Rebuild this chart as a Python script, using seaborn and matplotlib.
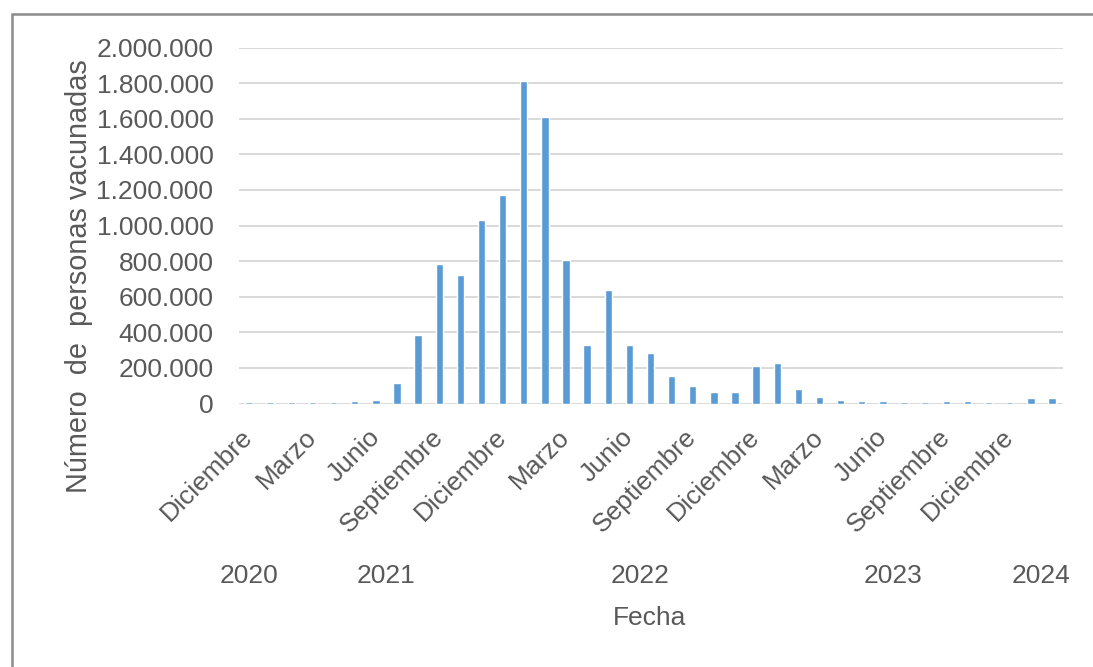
import matplotlib
matplotlib.use("Agg")
import matplotlib.pyplot as plt
import matplotlib.transforms as mtransforms
from matplotlib.patches import Rectangle
from matplotlib.ticker import FuncFormatter, MultipleLocator
import pandas as pd
import seaborn as sns

# Monthly data, December 2020 to February 2024
meses = ["Diciembre", "Enero", "Febrero", "Marzo", "Abril", "Mayo", "Junio",
         "Julio", "Agosto", "Septiembre", "Octubre", "Noviembre"]
periodos = pd.period_range("2020-12", "2024-02", freq="M")
vacunados = [8000, 9000, 8000, 8000, 8000, 15000, 22000, 117000, 387000,
             783000, 724000, 1032000, 1174000, 1813000, 1611000, 806000,
             330000, 640000, 330000, 283000, 157000, 97000, 64000, 64000,
             208000, 225000, 82000, 37000, 21000, 15000, 15000, 9000, 9000,
             15000, 15000, 9000, 9000, 31000, 31000]
meses_rotulados = ["Diciembre", "Marzo", "Junio", "Septiembre"]

df = pd.DataFrame({
    "periodo": [str(p) for p in periodos],
    "anio": [p.year for p in periodos],
    "mes": [meses[p.month % 12] for p in periodos],
    "personas": vacunados,
})

sns.set_style("white")
plt.rcParams["font.family"] = ["Liberation Sans", "DejaVu Sans"]
TXT = "#595959"
FS = 19

W, H = 1093, 667
fig = plt.figure(figsize=(W / 100, H / 100), dpi=100)
ax = fig.add_axes([238.5 / W, 1 - 403.5 / H, (1062.5 - 238.5) / W, (403.5 - 47.5) / H])

sns.barplot(data=df, x="periodo", y="personas", color="#5B9BD5",
            saturation=1, width=0.35, ax=ax)

ax.set_xlim(-0.5, len(df) - 0.5)
ax.set_ylim(0, 2_000_000)
ax.yaxis.set_major_locator(MultipleLocator(200_000))
ax.yaxis.set_major_formatter(FuncFormatter(lambda v, _: f"{int(v):,}".replace(",", ".")))
ax.yaxis.grid(True, color="#D9D9D9", lw=1.4)
ax.set_axisbelow(True)
for s in ax.spines.values():
    s.set_visible(False)

# month ticks every three months
pos = [i for i, m in enumerate(df["mes"]) if m in meses_rotulados]
ax.set_xticks(pos)
ax.set_xticklabels([df["mes"][i] for i in pos], rotation=45, ha="right",
                   va="center", rotation_mode="anchor")
ax.tick_params(axis="x", length=0, pad=21.5, labelsize=FS, labelcolor=TXT)
ax.tick_params(axis="y", length=0, pad=18, labelsize=FS, labelcolor=TXT)
ax.set_xlabel("")
ax.set_ylabel("")

# year labels centred under their months
trans = mtransforms.blended_transform_factory(ax.transData, fig.transFigure)
for anio, grupo in df.groupby("anio"):
    centro = sum(grupo.index) / len(grupo)
    ax.text(centro, 1 - 583 / H, str(anio), transform=trans, ha="center",
            va="baseline", fontsize=FS, color=TXT)

fig.text(650 / W, 1 - 625 / H, "Fecha", ha="center", va="baseline",
         fontsize=FS, color=TXT)
fig.text(79 / W, 1 - 276 / H, "Número  de  personas vacunadas", rotation=90,
         ha="center", va="center", fontsize=20.8, color=TXT)

# chart frame
fig.patches.append(Rectangle((11.5 / W, -0.1), 1.2, 1.1 - 13.8 / H,
                             transform=fig.transFigure, fill=False,
                             ec="#8C8C8C", lw=1.8))

fig.savefig("out.png", dpi=100, facecolor="white")
